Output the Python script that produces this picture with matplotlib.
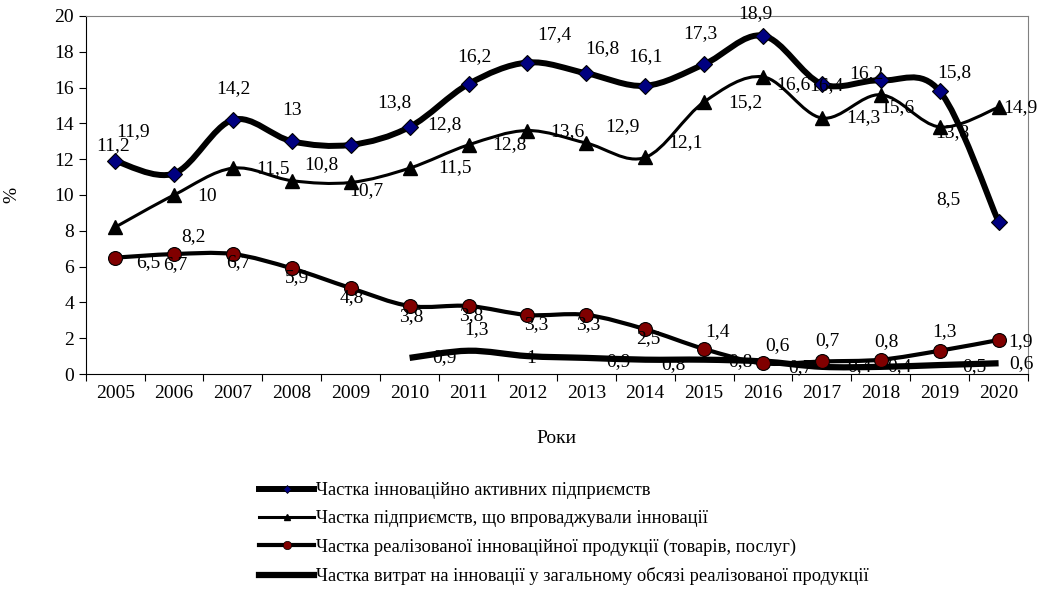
import numpy as np
import matplotlib.pyplot as plt
from matplotlib.path import Path
from matplotlib.patches import PathPatch
from matplotlib.lines import Line2D

plt.rcParams['font.family'] = ['Liberation Serif', 'DejaVu Serif']

years = [2005, 2006, 2007, 2008, 2009, 2010, 2011, 2012, 2013, 2014,
         2015, 2016, 2017, 2018, 2019, 2020]
active = [11.9, 11.2, 14.2, 13.0, 12.8, 13.8, 16.2, 17.4, 16.8, 16.1,
          17.3, 18.9, 16.2, 16.4, 15.8, 8.5]
implemented = [8.2, 10, 11.5, 10.8, 10.7, 11.5, 12.8, 13.6, 12.9, 12.1,
               15.2, 16.6, 14.3, 15.6, 13.8, 14.9]
sold = [6.5, 6.7, 6.7, 5.9, 4.8, 3.8, 3.8, 3.3, 3.3, 2.5,
        1.4, 0.6, 0.7, 0.8, 1.3, 1.9]
costs_years = [2010, 2011, 2012, 2013, 2014, 2015, 2016, 2017, 2018, 2019, 2020]
costs = [0.9, 1.3, 1.0, 0.9, 0.8, 0.8, 0.7, 0.4, 0.4, 0.5, 0.6]

names = ['Частка інноваційно активних підприємств',
         'Частка підприємств, що впроваджували інновації',
         'Частка реалізованої інноваційної продукції (товарів, послуг)',
         'Частка витрат на інновації у загальному обсязі реалізованої продукції']

# label offsets in pixels (dx right, dy down)
off_active = [(18, -29), (-61, -28), (0, -31), (0, -31), (94, -20), (-15, -24),
              (6, -27), (27, -28), (16, -25), (0, -29), (-4, -31), (-8, -22),
              (45, -10), (-54, 5), (15, -19), (-50, -22)]
off_impl = [(78, 9), (33, 2), (40, 0), (30, -16), (16, 8), (45, -1), (41, 0),
            (40, 1), (36, -16), (40, -15), (41, 1), (30, 8), (41, 0), (16, 13),
            (13, 6), (22, 0)]
off_sold = [(33, 5), (1, 11), (5, 9), (5, 9), (1, 10), (2, 11), (3, 10), (9, 10),
            (2, 10), (3, 9), (13, -17), (14, -18), (6, -21), (6, -18), (5, -19),
            (22, 2)]
off_costs = [(35, 0), (8, -21), (4, 2), (32, 4), (28, 5), (36, 2), (37, 6),
             (38, 0), (19, 0), (35, 2), (23, 0)]


def smooth_path(xs, ys):
    # Excel-like smoothed line: cubic Bezier through every point
    p = np.column_stack([xs, ys]).astype(float)
    ext = np.vstack([p[0], p, p[-1]])
    verts = [p[0]]
    codes = [Path.MOVETO]
    for i in range(len(p) - 1):
        c1 = ext[i + 1] + (ext[i + 2] - ext[i]) / 6
        c2 = ext[i + 2] - (ext[i + 3] - ext[i + 1]) / 6
        verts += [c1, c2, ext[i + 2]]
        codes += [Path.CURVE4] * 3
    return Path(verts, codes)


def fmt(v):
    return f'{v:g}'.replace('.', ',')


fig = plt.figure(figsize=(10.4, 6.01), dpi=100)
ax = fig.add_axes([0.0824, 0.3777, 0.9061, 0.5957])

idx = np.arange(len(years))
cidx = np.array([years.index(y) for y in costs_years])

series = [
    (idx, active, 4.3, dict(marker='D', ms=8.5, mfc='#000080', mec='black', mew=0.8), off_active),
    (idx, implemented, 2.2, dict(marker='^', ms=9.5, mfc='black', mec='black'), off_impl),
    (idx, sold, 3.0, dict(marker='o', ms=10, mfc='#800000', mec='black', mew=0.8), off_sold),
    (cidx, costs, 4.5, None, off_costs),
]

for xs, ys, lw, mk, offs in series:
    ax.add_patch(PathPatch(smooth_path(xs, ys), fill=False, lw=lw,
                           edgecolor='black', capstyle='butt', zorder=2))
    if mk:
        ax.plot(xs, ys, linestyle='none', zorder=3, **mk)
    for x, y, (dx, dy) in zip(xs, ys, offs):
        ax.annotate(fmt(y), (x, y), xytext=(dx, -dy), textcoords='offset pixels',
                    ha='center', va='center', fontsize=14, zorder=4)

ax.set_xlim(-0.5, len(years) - 0.5)
ax.set_ylim(0, 20)
ax.set_yticks(np.arange(0, 21, 2))
ax.set_xticks(np.arange(-0.5, len(years), 1))
ax.set_xticklabels([])
ax.set_xticks(idx, minor=True)
ax.set_xticklabels([str(y) for y in years], minor=True)
ax.tick_params(axis='x', which='minor', length=0, pad=8, labelsize=14)
ax.tick_params(axis='x', which='major', length=5, direction='out')
ax.tick_params(axis='y', length=5, direction='out', labelsize=14)
for s in ['top', 'right']:
    ax.spines[s].set_color('#808080')
ax.set_ylabel('%', fontsize=14, labelpad=24)
ax.set_xlabel('Роки', fontsize=14, labelpad=20)

handles = [
    Line2D([], [], color='black', lw=4.3, marker='D', ms=4, mfc='#000080', mec='black', mew=0.5),
    Line2D([], [], color='black', lw=2.2, marker='^', ms=5, mfc='black'),
    Line2D([], [], color='black', lw=3.0, marker='o', ms=6, mfc='#800000', mec='black', mew=0.5),
    Line2D([], [], color='black', lw=4.5),
]
fig.legend(handles, names, loc='center left', bbox_to_anchor=(0.24, 0.112),
           frameon=False, fontsize=13.3, handlelength=3.0, handletextpad=0.1,
           labelspacing=0.6, borderpad=0)

fig.savefig('out.png', dpi=100)
